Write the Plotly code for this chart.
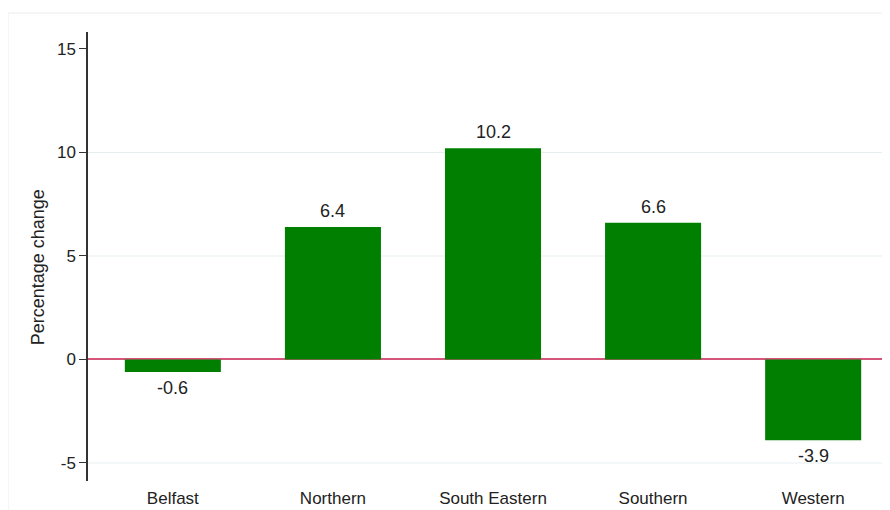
import plotly.graph_objects as go

regions = ["Belfast", "Northern", "South Eastern", "Southern", "Western"]
pct_change = [-0.6, 6.4, 10.2, 6.6, -3.9]
y_ticks = [-5, 0, 5, 10, 15]

FONT = "Liberation Sans, Arial, sans-serif"

fig = go.Figure()
fig.add_trace(go.Bar(
    x=list(range(len(regions))),
    y=pct_change,
    width=0.6,
    marker=dict(color="#007f00", line=dict(width=0)),
    cliponaxis=False,
))

# value labels, a little further from the bar ends than plotly's default padding
for i, v in enumerate(pct_change):
    fig.add_annotation(
        x=i, y=v, xref="x", yref="y", text=f"{v:.1f}", showarrow=False,
        yanchor="bottom" if v >= 0 else "top", yshift=4 if v >= 0 else -4,
        font=dict(size=18, color="#222222", family=FONT),
    )

# page body adds an 8px offset, so the figure is sized to the remaining window
W, H = 882, 502
L, R, T, B = 80, 0, 24, 29
PW, PH = W - L - R, H - T - B

# y-axis title placed as an annotation to match the reference's vertical position
fig.add_annotation(
    xref="paper", yref="paper", x=-50 / PW, y=0.476, text="Percentage change",
    textangle=-90, showarrow=False, xanchor="center", yanchor="middle",
    font=dict(size=18, color="#222222", family=FONT),
)

shapes = [dict(type="rect", xref="paper", yref="paper",
               x0=-L / PW, x1=1.02,
               y0=-(B + 10) / PH, y1=1 + (T - 5) / PH,
               line=dict(color="#ececec", width=1), layer="below")]
# gridlines at the inner ticks (not at the top tick or zero)
for t in y_ticks:
    if t != 0 and t != max(y_ticks):
        shapes.append(dict(type="line", xref="paper", yref="y", x0=0, x1=1, y0=t, y1=t,
                           line=dict(color="#e6eff0", width=1), layer="below"))

fig.update_layout(
    width=W, height=H,
    margin=dict(l=L, r=R, t=T, b=B),
    paper_bgcolor="white", plot_bgcolor="white",
    font=dict(family=FONT, color="#222222"),
    showlegend=False,
    shapes=shapes,
)
fig.update_xaxes(
    range=[-0.53, 4.48],
    tickmode="array", tickvals=list(range(len(regions))), ticktext=regions,
    showline=False, showgrid=False, ticks="", zeroline=False,
    tickfont=dict(size=17, color="#222222"),
    ticklabelstandoff=5,
)
fig.update_yaxes(
    range=[-5.87, 15.82],
    tickmode="array", tickvals=y_ticks, ticktext=[str(t) for t in y_ticks],
    showline=True, linecolor="#333333", linewidth=1.5,
    ticks="outside", ticklen=7, tickcolor="#333333",
    showgrid=False,
    zeroline=True, zerolinecolor="#d6557a", zerolinewidth=2,
    tickfont=dict(size=17, color="#222222"),
)

fig.write_html("out.html")
